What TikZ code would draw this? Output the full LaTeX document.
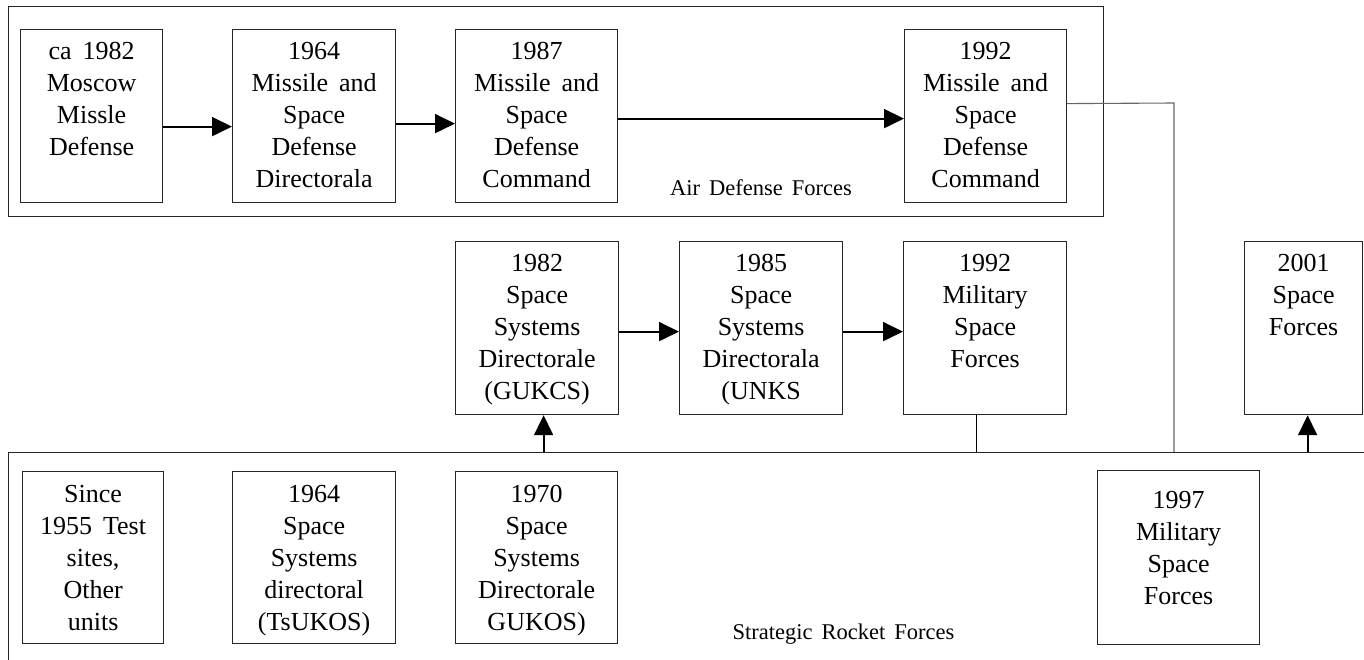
\documentclass[tikz,border=0pt]{standalone}
\usepackage{fontspec}
\setmainfont{Liberation Serif}
\usetikzlibrary{arrows.meta}
\newcommand\bt[4]{\parbox[c][#2][t]{#1}{\centering\spaceskip=0.42em plus 0.1em minus 0.05em\relax\rule{0pt}{#3}#4}}
\newcommand\wide[1]{{\spaceskip=0.4em plus 0.1em\relax #1}}
\tikzset{
 orgbox/.style={draw=black!85, line width=1.2pt, inner sep=0pt, anchor=north west,
   font=\fontsize{26}{32}\selectfont},
 frame/.style={draw=black!85, line width=1.1pt, inner sep=0pt, anchor=north west},
 arr/.style={line width=1.8pt, -{Triangle[length=20pt,width=19pt]}},
 link/.style={line width=1.2pt},
 greylink/.style={draw=black!60, line width=1.1pt},
 lbl/.style={font=\fontsize{22.5}{26}\selectfont}
}
\begin{document}
\begin{tikzpicture}[x=1pt,y=-1pt]
\path[use as bounding box] (0,0) rectangle (1364,659);
\clip (0,0) rectangle (1364,659);
% frames
\node[frame, minimum width=1095pt, minimum height=210pt] (adf) at (8,6) {};
\node[frame, minimum width=1400pt, minimum height=300pt] (srf) at (8,452) {};
% top row
\node[orgbox] (a1) at (20,29) {\bt{142pt}{173pt}{30pt}{ca 1982\\Moscow\\Missle\\Defense}};
\node[orgbox] (a2) at (232,29) {\bt{163pt}{173pt}{30pt}{1964\\Missile and\\Space\\Defense\\Directorala}};
\node[orgbox] (a3) at (455,29) {\bt{162pt}{173pt}{30pt}{1987\\Missile and\\Space\\Defense\\Command}};
\node[orgbox] (a4) at (904,29) {\bt{162pt}{173pt}{30pt}{1992\\Missile and\\Space\\Defense\\Command}};
% middle row
\node[orgbox] (m1) at (455,241) {\bt{163pt}{173pt}{30pt}{1982\\Space\\Systems\\Directorale\\(GUKCS)}};
\node[orgbox] (m2) at (679,241) {\bt{163pt}{173pt}{30pt}{1985\\Space\\Systems\\Directorala\\(UNKS}};
\node[orgbox] (m3) at (903,241) {\bt{163pt}{173pt}{30pt}{1992\\Military\\Space\\Forces}};
\node[orgbox] (m4) at (1244,241) {\bt{118pt}{173pt}{30pt}{2001\\Space\\Forces}};
% bottom row
\node[orgbox] (b1) at (22,471) {\bt{141pt}{172pt}{30.5pt}{Since\\1955 Test\\sites,\\Other\\units}};
\node[orgbox] (b2) at (232,471) {\bt{163pt}{172pt}{30.5pt}{1964\\Space\\Systems\\directoral\\(TsUKOS)}};
\node[orgbox] (b3) at (455,471) {\bt{162pt}{172pt}{30.5pt}{1970\\Space\\Systems\\Directorale\\GUKOS)}};
\node[orgbox] (b4) at (1097,470) {\bt{162pt}{174pt}{38pt}{1997\\Military\\Space\\Forces}};
% labels
\node[lbl] (adfl) at (761,188) {\wide{Air Defense Forces}};
\node[lbl] (srfl) at (843.5,634) {\wide{Strategic Rocket Forces}};
% arrows
\draw[arr] ([yshift=-10.5pt]a1.east) -- ([yshift=-10.5pt]a2.west);
\draw[arr] ([yshift=-7.5pt]a2.east) -- ([yshift=-7.5pt]a3.west);
\draw[arr] ([yshift=-2.5pt]a3.east) -- ([yshift=-2.5pt]a4.west);
\draw[arr] ([yshift=-3.5pt]m1.east) -- ([yshift=-3.5pt]m2.west);
\draw[arr] ([yshift=-3.5pt]m2.east) -- ([yshift=-3.5pt]m3.west);
\draw[arr] ([xshift=6.5pt]m1.south |- srf.north) -- ([xshift=6.5pt]m1.south);
\draw[link] ([xshift=-8.5pt]m3.south) -- ([xshift=-8.5pt]m3.south |- srf.north);
\draw[arr] ([xshift=4pt]m4.south |- srf.north) -- ([xshift=4pt]m4.south);
\coordinate (bend) at (1174,103);
\draw[greylink] ([yshift=12.5pt]a4.east) -- (bend) -- (bend |- srf.north);
\end{tikzpicture}
\end{document}
